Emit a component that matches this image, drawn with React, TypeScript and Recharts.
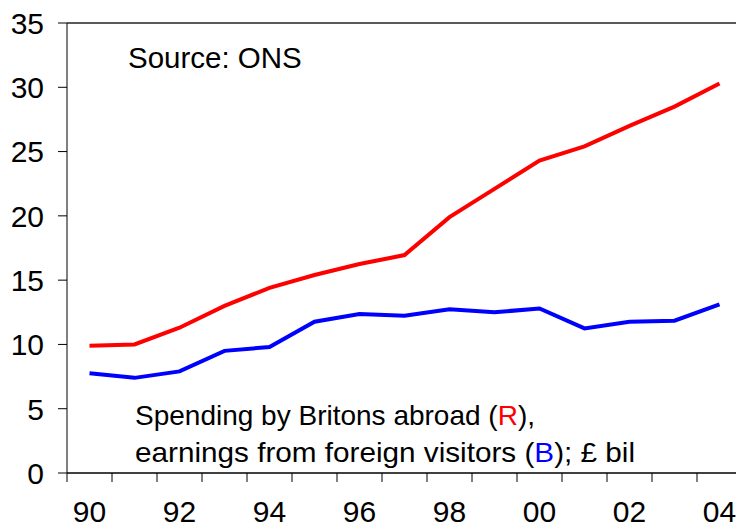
import React from "react";
import {
  LineChart,
  Line,
  XAxis,
  YAxis,
  ReferenceLine,
} from "recharts";

const years = [
  1990, 1991, 1992, 1993, 1994, 1995, 1996, 1997, 1998, 1999, 2000, 2001,
  2002, 2003, 2004,
];
// Spending by Britons abroad (red), £ bil
const spendingAbroad = [
  9.9, 10.0, 11.3, 13.0, 14.4, 15.4, 16.25, 16.95, 19.9, 22.1, 24.3, 25.4,
  27.0, 28.5, 30.3,
];
// Earnings from foreign visitors (blue), £ bil
const foreignEarnings = [
  7.75, 7.4, 7.9, 9.5, 9.8, 11.77, 12.37, 12.23, 12.73, 12.5, 12.8, 11.25,
  11.77, 11.85, 13.12,
];
const yTicks = [0, 5, 10, 15, 20, 25, 30, 35];
// tick marks sit between the years, labels every second year
const xTickBounds = [...years.map((y) => y - 0.5), 2004.5];

const data = years.map((year, i) => ({
  year,
  spending: spendingAbroad[i],
  earnings: foreignEarnings[i],
}));

const FONT = '"Liberation Sans", Arial, Helvetica, sans-serif';

const XTick = (props: any) => {
  const { x, y, payload } = props;
  const yr = payload.value + 0.5;
  if (yr % 2 !== 0 || yr > 2004) return null;
  return (
    <text
      x={x + 22.5}
      y={y + 38}
      textAnchor="middle"
      fill="#000"
      style={{ fontFamily: FONT, fontSize: 30 }}
    >
      {String(yr % 100).padStart(2, "0")}
    </text>
  );
};

const YTick = (props: any) => {
  const { x, y, payload } = props;
  return (
    <text
      x={x}
      y={y}
      dy="0.36em"
      textAnchor="end"
      fill="#000"
      style={{ fontFamily: FONT, fontSize: 30 }}
    >
      {payload.value}
    </text>
  );
};

export default function App() {
  return (
    <div
      style={{
        position: "fixed",
        left: 0,
        top: 0,
        width: 736,
        height: 524,
        overflow: "hidden",
        background: "#fff",
      }}
    >
      <LineChart
        width={760}
        height={524}
        data={data}
        margin={{ top: 23, right: 18, left: 0, bottom: 0 }}
      >
        <XAxis
          dataKey="year"
          type="number"
          domain={[1989.5, 2004.5]}
          ticks={xTickBounds}
          interval={0}
          allowDataOverflow
          height={51}
          tickSize={9}
          axisLine={{ stroke: "#000", strokeWidth: 1.5 }}
          tickLine={{ stroke: "#000", strokeWidth: 1 }}
          tick={<XTick />}
        />
        <YAxis
          domain={[0, 35]}
          ticks={yTicks}
          interval={0}
          width={67}
          tickSize={9}
          tickMargin={14}
          axisLine={{ stroke: "#000", strokeWidth: 1 }}
          tickLine={{ stroke: "#000", strokeWidth: 1 }}
          tick={<YTick />}
        />
        <ReferenceLine y={35} stroke="#5a5a5a" strokeWidth={2} />
        <Line
          dataKey="spending"
          stroke="#ff0000"
          strokeWidth={4}
          dot={false}
          isAnimationActive={false}
        />
        <Line
          dataKey="earnings"
          stroke="#0000ff"
          strokeWidth={4}
          dot={false}
          isAnimationActive={false}
        />
      </LineChart>
      <svg
        width={736}
        height={524}
        style={{ position: "absolute", left: 0, top: 0, pointerEvents: "none" }}
      >
        <g style={{ fontFamily: FONT }} fill="#000">
          <text x={128} y={68} fontSize={29.5}>
            Source: ONS
          </text>
          <text x={135} y={425} fontSize={28}>
            Spending by Britons abroad (<tspan fill="#ff0000">R</tspan>),
          </text>
          <text
            x={135}
            y={462}
            fontSize={28}
            textLength={500}
            lengthAdjust="spacingAndGlyphs"
          >
            earnings from foreign visitors (<tspan fill="#0000ff">B</tspan>); £ bil
          </text>
        </g>
      </svg>
    </div>
  );
}
